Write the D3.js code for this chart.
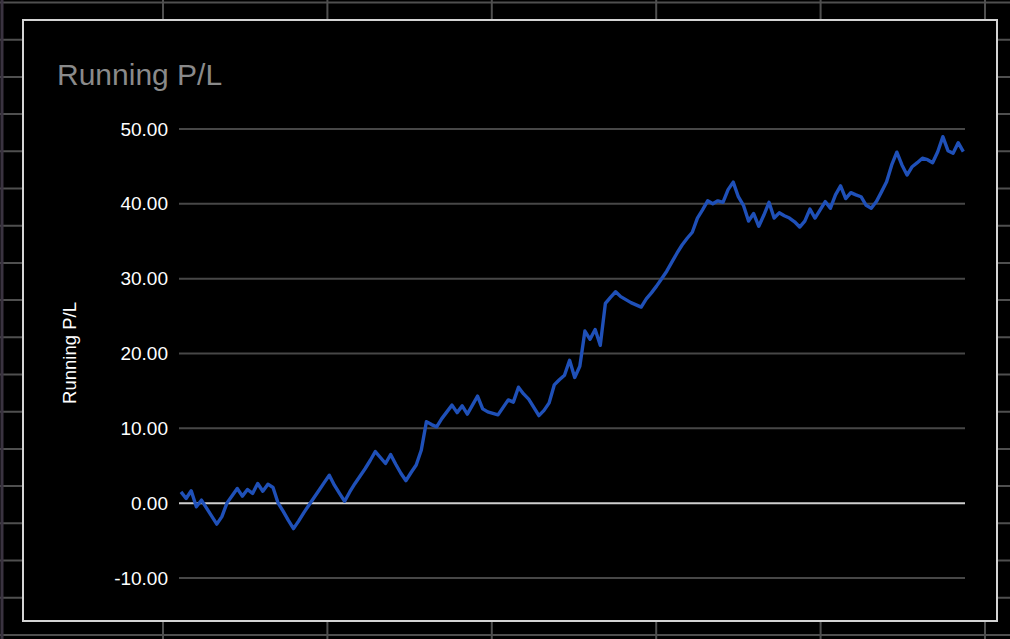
<!DOCTYPE html>
<html>
<head>
<meta charset="utf-8">
<script src="https://cdn.jsdelivr.net/npm/d3@7"></script>
<style>
  html, body { margin: 0; padding: 0; background: #000; }
  svg { display: block; }
</style>
</head>
<body>
<svg id="chart" width="1010" height="639"></svg>
<script>
// ---- data ----
const title = "Running P/L";
const yAxisTitle = "Running P/L";
const yTickValues = [-10, 0, 10, 20, 30, 40, 50];
const yTickLabels = ["-10.00", "0.00", "10.00", "20.00", "30.00", "40.00", "50.00"];
const runningPL = [
  1.51, 0.63, 1.65, -0.49, 0.4, -0.67, -1.73, -2.8, -1.8, 0.04,
  1.0, 1.96, 0.94, 1.83, 1.3, 2.63, 1.6, 2.54, 2.1, 0.0,
  -1.1, -2.3, -3.4, -2.4, -1.3, -0.27, 0.73, 1.73, 2.74, 3.74,
  2.4, 1.3, 0.25, 1.5, 2.6, 3.6, 4.6, 5.7, 6.9, 6.1,
  5.3, 6.5, 5.2, 4.0, 3.0, 4.1, 5.1, 7.1, 10.9, 10.5,
  10.2, 11.3, 12.2, 13.1, 12.1, 13.0, 11.9, 13.1, 14.3, 12.6,
  12.2, 12.0, 11.8, 12.8, 13.8, 13.5, 15.5, 14.6, 13.9, 12.8,
  11.7, 12.4, 13.4, 15.8, 16.5, 17.1, 19.1, 16.8, 18.3, 23.0,
  21.9, 23.2, 21.1, 26.7, 27.5, 28.25, 27.6, 27.2, 26.8, 26.5,
  26.2, 27.3, 28.1, 29.0, 30.0, 31.0, 32.2, 33.4, 34.5, 35.4,
  36.2, 38.1, 39.2, 40.4, 40.0, 40.4, 40.2, 41.9, 42.9, 40.95,
  39.8, 37.7, 38.7, 37.0, 38.5, 40.2, 38.1, 38.8, 38.4, 38.1,
  37.6, 36.9, 37.7, 39.3, 38.1, 39.2, 40.3, 39.4, 41.2, 42.4,
  40.7, 41.5, 41.2, 40.95, 39.8, 39.4, 40.3, 41.6, 42.95, 45.2,
  46.9, 45.2, 43.85, 44.96, 45.5, 46.1, 45.9, 45.5, 46.97, 48.97,
  47.1, 46.75, 48.17, 46.97
];
const trades = runningPL.map((_, i) => i + 1);

// ---- drawing ----
const svg = d3.select("#chart");
const W = 1010, H = 639;

// spreadsheet-like background grid
svg.append("rect").attr("width", W).attr("height", H).attr("fill", "#000");
const bg = svg.append("g").attr("stroke", "#4f4f4f").attr("stroke-width", 2);
d3.range(0, 18).forEach(k => {
  const y = 2.5 + k * 37.2;
  bg.append("line").attr("x1", 0).attr("x2", W).attr("y1", y).attr("y2", y);
});
d3.range(0, 6).forEach(k => {
  const x = 163 + k * 164.4;
  bg.append("line").attr("x1", x).attr("x2", x).attr("y1", 0).attr("y2", H);
});
svg.append("line").attr("x1", 2).attr("x2", 2).attr("y1", 0).attr("y2", H)
  .attr("stroke", "#3a3340").attr("stroke-width", 3);

// chart frame
svg.append("rect")
  .attr("x", 23).attr("y", 20).attr("width", 974).attr("height", 601)
  .attr("fill", "#000").attr("stroke", "#d4d4d4").attr("stroke-width", 2);

// scales
const x = d3.scaleLinear().domain([0, runningPL.length - 1]).range([181, 963.3]);
const y = d3.scaleLinear().domain([-10, 50]).range([578, 129]);
const gridX0 = 179, gridX1 = 965;

// gridlines
svg.append("g").selectAll("line").data(yTickValues).join("line")
  .attr("x1", gridX0).attr("x2", gridX1)
  .attr("y1", d => y(d)).attr("y2", d => y(d))
  .attr("stroke", d => d === 0 ? "#cfcfcf" : "#474747")
  .attr("stroke-width", 2);

// y axis labels
const yAxis = d3.axisLeft(y).tickValues(yTickValues)
  .tickFormat((d, i) => yTickLabels[i]).tickSize(0).tickPadding(0);
const ga = svg.append("g").attr("transform", `translate(168,0)`).call(yAxis);
ga.select(".domain").remove();
ga.selectAll("text")
  .attr("fill", "#ffffff")
  .attr("font-family", "'Liberation Sans', Arial, sans-serif")
  .attr("font-size", "19px");

// line
const line = d3.line().x((d, i) => x(i)).y(d => y(d));
svg.append("path").datum(runningPL)
  .attr("d", line)
  .attr("fill", "none")
  .attr("stroke", "#1f50b8")
  .attr("stroke-width", 3.4)
  .attr("stroke-linejoin", "round");

// title
svg.append("text")
  .attr("x", 57).attr("y", 85)
  .attr("fill", "#8a8a8a")
  .attr("font-family", "'Liberation Sans', Arial, sans-serif")
  .attr("font-size", "30px")
  .text(title);

// y axis title
svg.append("text")
  .attr("transform", "translate(76,353) rotate(-90)")
  .attr("text-anchor", "middle")
  .attr("fill", "#ffffff")
  .attr("font-family", "'Liberation Sans', Arial, sans-serif")
  .attr("font-size", "18.5px")
  .text(yAxisTitle);
</script>
</body>
</html>
